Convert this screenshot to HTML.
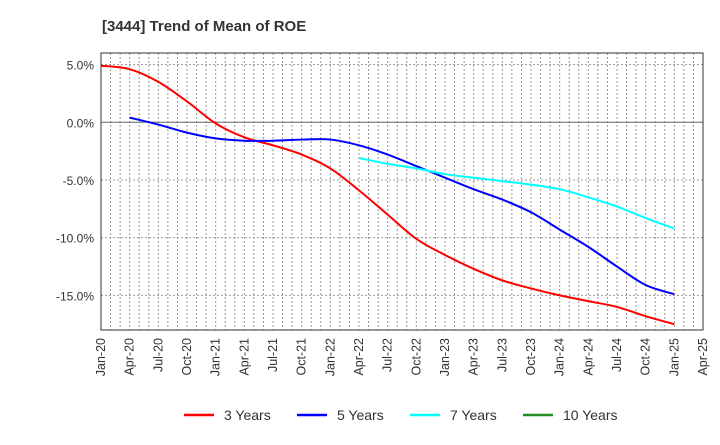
<!DOCTYPE html>
<html><head><meta charset="utf-8"><style>
body{margin:0;background:#fff;font-family:"Liberation Sans",sans-serif}
svg text{font-family:"Liberation Sans",sans-serif;fill:#333}
</style></head><body>
<svg id="c" width="720" height="440" xmlns="http://www.w3.org/2000/svg">
<text x="102" y="31" font-size="15" font-weight="bold">[3444]  Trend of Mean of ROE</text>
<g id="grid"></g><g id="series"></g><g id="axes"></g>
<g>
<line x1="184" y1="415" x2="214" y2="415" stroke="#f00" stroke-width="2.5"/>
<text x="224" y="420" font-size="14">3 Years</text>
<line x1="297" y1="415" x2="327" y2="415" stroke="#00f" stroke-width="2.5"/>
<text x="337" y="420" font-size="14">5 Years</text>
<line x1="410" y1="415" x2="440" y2="415" stroke="#0ff" stroke-width="2.5"/>
<text x="450" y="420" font-size="14">7 Years</text>
<line x1="523" y1="415" x2="553" y2="415" stroke="#228b22" stroke-width="2.5"/>
<text x="563" y="420" font-size="14">10 Years</text>
</g>
</svg>
<script>
const xLabels=["Jan-20","Apr-20","Jul-20","Oct-20","Jan-21","Apr-21","Jul-21","Oct-21","Jan-22","Apr-22","Jul-22","Oct-22","Jan-23","Apr-23","Jul-23","Oct-23","Jan-24","Apr-24","Jul-24","Oct-24","Jan-25","Apr-25"];
const yTicks=[5,0,-5,-10,-15];
const y3=[4.9,4.6,3.5,1.8,-0.1,-1.3,-2.0,-2.8,-4.0,-5.9,-8.0,-10.1,-11.5,-12.7,-13.7,-14.4,-15.0,-15.5,-16.0,-16.8,-17.5];
const y5=[null,0.4,-0.2,-0.9,-1.4,-1.6,-1.6,-1.5,-1.5,-2.0,-2.8,-3.8,-4.8,-5.8,-6.7,-7.8,-9.3,-10.8,-12.5,-14.1,-14.9];
const y7=[null,null,null,null,null,null,null,null,null,-3.1,-3.6,-4.0,-4.5,-4.8,-5.1,-5.4,-5.8,-6.5,-7.3,-8.3,-9.2];
const y10=[];
const L=101,R=703,T=53,B=330,yMin=-18,yMax=6;
const nQ=xLabels.length-1;
const X=i=>L+(R-L)*i/nQ;
const Y=v=>T+(B-T)*(yMax-v)/(yMax-yMin);
const NS="http://www.w3.org/2000/svg";
function mk(tag,a,parent){const e=document.createElementNS(NS,tag);for(const k in a)e.setAttribute(k,a[k]);parent.appendChild(e);return e;}
const grid=document.getElementById('grid'),axes=document.getElementById('axes'),ser=document.getElementById('series');
for(let m=1;m<nQ*3;m++){const x=L+(R-L)*m/(nQ*3);
 const g=mk('line',{x1:x,y1:T,x2:x,y2:B,stroke:'#999','stroke-dasharray':'2,2','stroke-width':1},grid);
 
 }
yTicks.forEach(v=>{const y=Y(v);
 const g=mk('line',{x1:L,y1:y,x2:R,y2:y,stroke:v===0?'#666':'#999','stroke-dasharray':v===0?'':'2,2','stroke-width':1},grid);
 
 });
const fr=mk('rect',{x:L,y:T,width:R-L,height:B-T,fill:'none',stroke:'#333','stroke-width':1},axes);


yTicks.forEach(v=>{const t=mk('text',{x:L-7,y:Y(v)+5,'font-size':12,'text-anchor':'end'},axes);t.textContent=v.toFixed(1)+'%';
 
 });
xLabels.forEach((s,i)=>{const x=X(i)+4;const t=mk('text',{x:x,y:338,'font-size':12.5,'text-anchor':'end',transform:`rotate(-90 ${x} 338)`},axes);t.textContent=s;
 
 });
function path(data,color,name){const p=[];data.forEach((v,i)=>{if(v!==null&&v!==undefined)p.push([X(i),Y(v)]);});if(p.length<2)return;
 let d=`M${p[0][0]},${p[0][1]}`;
 for(let i=0;i<p.length-1;i++){const p0=p[i-1]||p[i],p1=p[i],p2=p[i+1],p3=p[i+2]||p2;
  d+=` C${p1[0]+(p2[0]-p0[0])/6},${p1[1]+(p2[1]-p0[1])/6} ${p2[0]-(p3[0]-p1[0])/6},${p2[1]-(p3[1]-p1[1])/6} ${p2[0]},${p2[1]}`;}
 const e=mk('path',{d:d,fill:'none',stroke:color,'stroke-width':2},ser);
 
 }
path(y3,'#f00','series-3-years');
path(y5,'#00f','series-5-years');
path(y7,'#0ff','series-7-years');
path(y10,'#228b22','series-10-years');
</script>
</body></html>
